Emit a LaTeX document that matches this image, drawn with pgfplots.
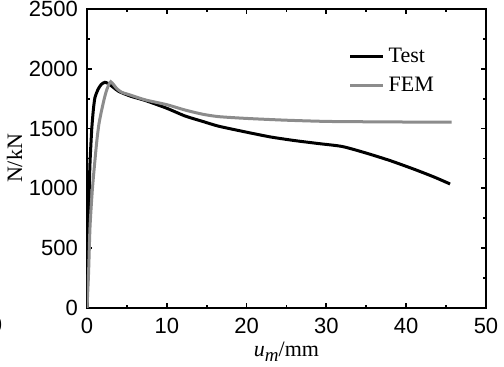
\documentclass[border=0pt]{standalone}
\usepackage{fontspec}
\setmainfont{Liberation Serif}
\newfontfamily\arial{Liberation Sans}
\usepackage{pgfplots}
\pgfplotsset{compat=1.18}

\definecolor{femgray}{RGB}{140,140,140}

\begin{document}
\begin{tikzpicture}
% fixed page frame around the axis box (units of 0.5pt)
\path[use as bounding box] (-43.5pt,-29.5pt) rectangle (208.5pt,154pt);
\begin{axis}[
  scale only axis,
  width=199.5pt, height=149.5pt,
  xmin=0, xmax=50, ymin=0, ymax=2500,
  xtick={0,10,...,50}, ytick={0,500,...,2500},
  minor x tick num=1, minor y tick num=1,
  tick align=inside,
  major tick length=2.5pt, minor tick length=1.5pt,
  axis line style={line width=1.2pt},
  every tick/.style={black, line width=0.9pt},
  /pgf/number format/assume math mode=true,
  /pgf/number format/1000 sep={},
  ticklabel style={font=\arial\fontsize{11}{13}\selectfont},
  xticklabel style={yshift=-1.5pt},
  yticklabel style={xshift=-1pt},
  xlabel={\textit{u}\raisebox{-0.45ex}{\fontsize{9.5}{10}\selectfont\textit{m}}/mm},
  ylabel={N/kN},
  label style={font=\fontsize{11}{13}\selectfont},
  xlabel style={yshift=2.5pt},
  ylabel style={yshift=-3.5pt},
  legend style={draw=none, fill=none, at={(0.655,0.885)}, anchor=north west,
    font=\fontsize{11}{13}\selectfont, row sep=2pt, inner sep=0pt},
  legend cell align=left,
  legend image code/.code={\draw[#1] (0pt,0pt) -- (16.5pt,0pt);},
]
\addplot[black, line width=1.5pt, smooth, tension=0.4] coordinates {
  (0,0) (0.1,350) (0.17,680) (0.3,1050) (0.4,1250) (0.6,1500) (0.8,1660)
  (1.0,1760) (1.4,1830) (1.8,1870) (2.25,1887) (2.7,1875) (3.3,1845)
  (4,1810) (5.5,1770) (7.3,1735) (10,1670) (12.3,1605) (14.5,1560)
  (16.5,1520) (20,1470) (23,1430) (26,1400) (29,1375) (32,1350)
  (35,1295) (38,1232) (41,1160) (43.5,1095) (45.5,1037)
};
\addlegendentry{Test}
\addplot[femgray, line width=1.5pt, smooth, tension=0.4] coordinates {
  (0,0) (0.2,300) (0.38,680) (0.7,1014) (1.2,1377) (1.5,1540) (1.84,1655)
  (2.2,1760) (2.47,1823) (2.75,1870) (2.97,1892) (3.3,1870) (3.7,1837)
  (4.3,1805) (5.4,1781) (7.3,1740) (10,1700) (12.3,1655) (14.5,1620)
  (16.5,1600) (20,1585) (25,1570) (30,1560) (35,1557) (40,1555) (45.7,1555)
};
\addlegendentry{FEM}
\end{axis}
% edge of a neighbouring label, cut by the page frame
\node[font=\arial\fontsize{11}{13}\selectfont, anchor=east, inner sep=0pt] at (-42.2pt,-8.5pt) {0};
\end{tikzpicture}
\end{document}
